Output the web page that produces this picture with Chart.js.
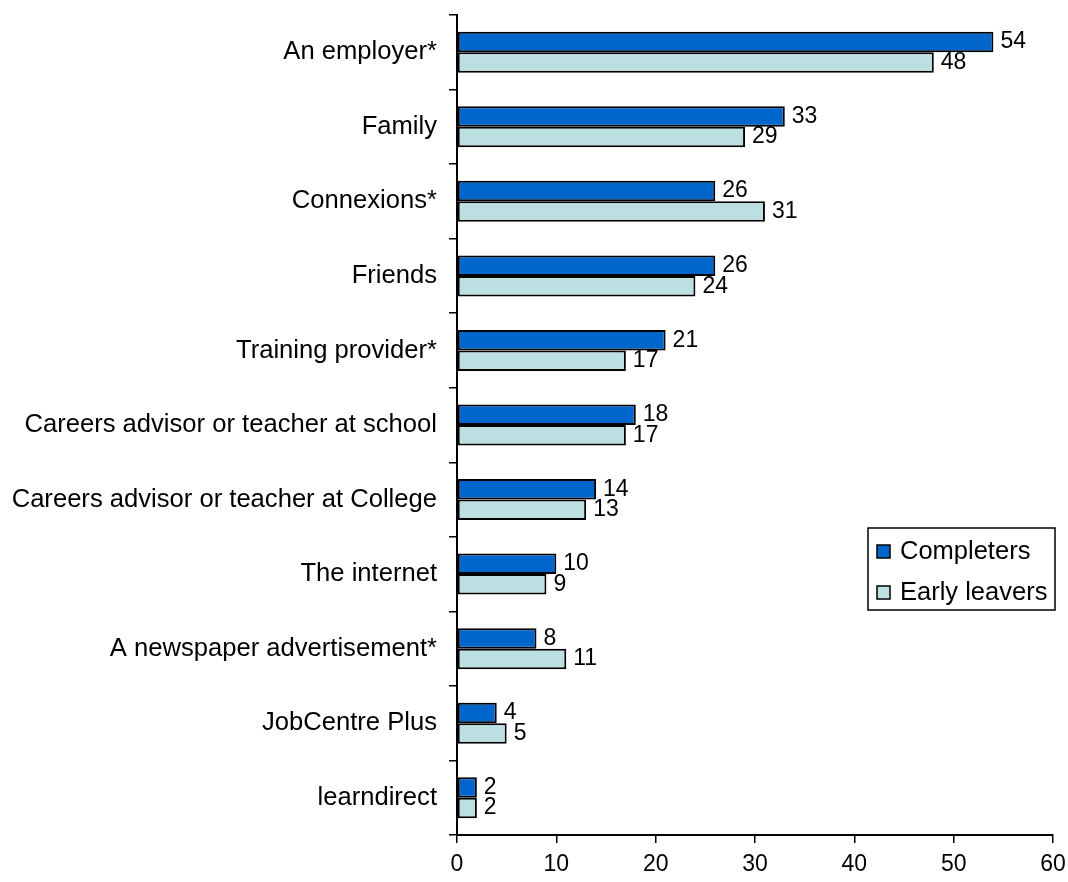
<!DOCTYPE html>
<html>
<head>
<meta charset="utf-8">
<script src="https://cdn.jsdelivr.net/npm/chart.js@4/dist/chart.umd.min.js"></script>
<style>
  html, body { margin: 0; padding: 0; background: #fff; }
  #wrap { width: 1068px; height: 882px; }
</style>
</head>
<body>
<div id="wrap"><canvas id="c" width="1068" height="882"></canvas></div>
<script>
const categories = [
  "An employer*",
  "Family",
  "Connexions*",
  "Friends",
  "Training provider*",
  "Careers advisor or teacher at school",
  "Careers advisor or teacher at College",
  "The internet",
  "A newspaper advertisement*",
  "JobCentre Plus",
  "learndirect"
];
const completers   = [54, 33, 26, 26, 21, 18, 14, 10, 8, 4, 2];
const earlyLeavers = [48, 29, 31, 24, 17, 17, 13, 9, 11, 5, 2];
const xTicks = [0, 10, 20, 30, 40, 50, 60];

const FONT = "'Liberation Sans', Arial, sans-serif";

// Value labels to the right of each bar
const valueLabels = {
  id: 'valueLabels',
  afterDatasetsDraw(chart) {
    const ctx = chart.ctx;
    ctx.save();
    ctx.font = "23px " + FONT;
    ctx.fillStyle = "#000";
    ctx.textAlign = "left";
    ctx.textBaseline = "middle";
    chart.data.datasets.forEach((ds, di) => {
      const meta = chart.getDatasetMeta(di);
      meta.data.forEach((bar, i) => {
        ctx.fillText(String(ds.data[i]), bar.x + 7, bar.y);
      });
    });
    ctx.restore();
  }
};

// Boxed legend placed inside the plot area
const boxLegend = {
  id: 'boxLegend',
  afterDraw(chart) {
    const ctx = chart.ctx;
    const x = 868, y = 528, w = 187, h = 82;
    ctx.save();
    ctx.fillStyle = "#fff";
    ctx.fillRect(x, y, w, h);
    ctx.strokeStyle = "#000";
    ctx.lineWidth = 1.5;
    ctx.strokeRect(x, y, w, h);
    ctx.font = "25.5px " + FONT;
    ctx.textBaseline = "middle";
    ctx.textAlign = "left";
    const rows = [y + 23, y + 64];
    chart.data.datasets.forEach((ds, i) => {
      const cy = rows[i];
      ctx.fillStyle = ds.backgroundColor;
      ctx.fillRect(x + 9, cy - 6, 13, 13);
      ctx.lineWidth = 1.5;
      ctx.strokeStyle = "#000";
      ctx.strokeRect(x + 9, cy - 6, 13, 13);
      ctx.fillStyle = "#000";
      ctx.fillText(ds.label, x + 32, cy + 1);
    });
    ctx.restore();
  }
};

new Chart(document.getElementById('c'), {
  type: 'bar',
  data: {
    labels: categories,
    datasets: [
      {
        label: "Completers",
        data: completers,
        backgroundColor: "#0066CC",
        borderColor: "#000",
        borderWidth: 2,
        borderSkipped: false,
        categoryPercentage: 0.55,
        barPercentage: 1.0
      },
      {
        label: "Early leavers",
        data: earlyLeavers,
        backgroundColor: "#BCE0E2",
        borderColor: "#000",
        borderWidth: 2,
        borderSkipped: false,
        categoryPercentage: 0.55,
        barPercentage: 1.0
      }
    ]
  },
  options: {
    indexAxis: 'y',
    responsive: false,
    animation: false,
    layout: { padding: { left: 0, right: 15, top: 15, bottom: 0 } },
    plugins: {
      legend: { display: false },
      tooltip: { enabled: false }
    },
    scales: {
      x: {
        min: 0,
        max: 60,
        afterBuildTicks(scale) {
          scale.ticks = xTicks.map(v => ({ value: v }));
        },
        afterFit(scale) {
          scale.height = 47;
          scale.paddingLeft = 0;
          scale.paddingRight = 0;
        },
        grid: {
          drawOnChartArea: false,
          drawTicks: true,
          tickLength: 8,
          color: "#000",
          lineWidth: 1.5
        },
        border: { display: true, color: "#000", width: 2 },
        ticks: {
          color: "#000",
          font: { family: FONT, size: 23 },
          padding: 8,
          maxRotation: 0
        }
      },
      y: {
        afterFit(scale) {
          scale.width = 457;
          scale.paddingTop = 0;
          scale.paddingBottom = 0;
        },
        grid: {
          offset: true,
          drawOnChartArea: false,
          drawTicks: true,
          tickLength: 8,
          color: "#000",
          lineWidth: 1.5
        },
        border: { display: true, color: "#000", width: 2 },
        ticks: {
          color: "#000",
          font: { family: FONT, size: 25.6 },
          padding: 12,
          autoSkip: false
        }
      }
    }
  },
  plugins: [valueLabels, boxLegend]
});
</script>
</body>
</html>
